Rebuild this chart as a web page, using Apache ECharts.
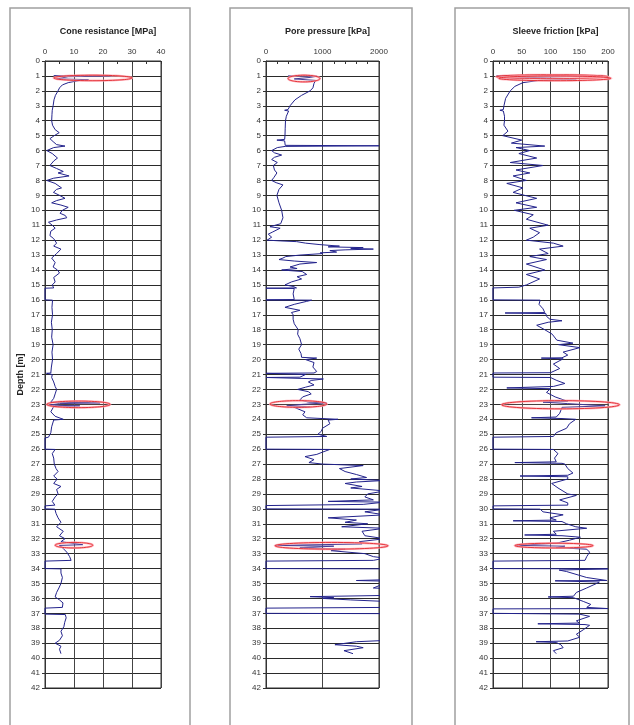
<!DOCTYPE html>
<html>
<head>
<meta charset="utf-8">
<script src="https://cdn.jsdelivr.net/npm/echarts@6/dist/echarts.min.js"></script>
<style>html,body{margin:0;padding:0;background:#fff}#c{width:634px;height:725px}</style>
</head>
<body>
<div id="c"></div>
<script>
// ---------- DATA ----------
const depthTicks = [0, 42];
const panelTitles = ['Cone resistance [MPa]', 'Pore pressure [kPa]', 'Sleeve friction [kPa]'];
const depthLabel = 'Depth [m]';

// Cone resistance [MPa]
const coneDepth = [0.98,1.0,1.05,1.2,1.25,1.3,1.45,1.6,1.8,2.0,2.3,2.6,3.0,3.3,3.6,4.0,4.3,4.6,4.8,5.0,5.2,5.4,5.6,5.7,5.8,6.0,6.2,6.5,6.7,7.0,7.2,7.4,7.5,7.7,7.85,8.0,8.2,8.5,8.6,8.8,9.0,9.2,9.35,9.5,9.65,9.8,10.0,10.2,10.35,10.5,10.65,10.8,11.0,11.2,11.4,11.7,11.9,12.2,12.4,12.6,12.7,12.9,13.2,13.5,13.8,14.0,14.2,14.5,14.8,15.0,15.2,15.22,16.0,16.02,16.5,17.0,17.5,18.0,18.5,19.0,19.5,20.0,20.5,20.9,20.92,21.0,21.2,21.5,21.8,22.0,22.3,22.6,22.85,22.9,22.95,23.05,23.1,23.15,23.5,23.8,24.0,24.05,24.5,24.9,25.2,25.25,26.0,26.02,26.3,26.6,27.0,27.3,27.5,27.8,28.0,28.3,28.5,28.7,29.0,29.2,29.5,29.75,29.8,30.0,30.02,30.3,30.6,30.9,31.2,31.5,31.8,32.0,32.2,32.4,32.45,32.6,32.9,33.2,33.45,33.5,34.0,34.02,34.3,34.6,35.0,35.3,35.6,35.9,36.1,36.3,36.6,36.65,37.05,37.08,37.3,37.6,37.9,38.2,38.5,38.8,39.0,39.2,39.4,39.7];
const coneValue = [3,23,8,4,15,12,8,6,5,4.5,3.6,3.1,2.8,2.5,2.4,2.3,2.6,3.5,4.9,3.2,1.7,2.8,4.0,6.9,3.0,0.6,2.5,4.3,3.0,1.7,4.0,6.3,4.5,8.3,3.0,0.6,3.5,5.7,4.0,2.9,5.0,6.9,4.0,2.3,5.5,8.0,6.0,5.2,7.0,7.5,4.0,1.2,2.5,3.5,2.0,1.7,3.0,4.0,3.0,5.5,5.0,4.0,2.3,3.5,2.8,4.3,5.0,3.0,3.5,2.5,3.0,0,0,2.6,2.4,2.6,2.2,2.5,2.3,2.8,2.4,2.6,2.2,2.0,0.5,2.5,2.3,3.0,3.5,4.0,3.5,3.0,2.0,19,5,1.5,12,3,2.0,3.5,6.3,3.0,2.3,2.0,1.2,0,0,3.5,2.5,3.0,3.2,3.8,4.5,3.0,4.2,3.0,5.5,4.0,4.5,3.5,2.5,3.4,0,0,3.4,3.8,4.5,5.5,4.0,6.3,5.0,6.9,5.5,13,5.0,6.0,7.5,8.5,9.0,0,0,5.5,5.5,6.0,5.5,4.8,4.0,3.5,5.0,6.2,6.0,0,0,7.0,7.3,6.8,6.5,5.5,6.0,5.0,3.5,5.5,5.0,5.5];

// Pore pressure [kPa]
const poreDepth = [1.0,1.02,1.1,1.2,1.3,1.5,1.8,2.0,2.3,2.6,3.0,3.25,3.3,3.35,3.7,4.0,4.5,5.0,5.25,5.3,5.35,5.65,5.68,5.72,5.8,6.0,6.15,6.3,6.45,6.6,6.8,7.0,7.3,7.5,7.8,8.0,8.15,8.3,8.6,9.0,9.5,10.0,10.5,10.9,11.0,11.1,11.2,11.3,11.45,11.6,11.8,12.0,12.05,12.1,12.2,12.3,12.4,12.45,12.5,12.55,12.6,12.65,12.7,12.8,12.85,12.9,13.0,13.1,13.2,13.3,13.4,13.5,13.6,13.8,13.9,14.0,14.1,14.3,14.45,14.6,14.8,15.0,15.1,15.2,15.22,15.24,15.6,15.98,16.0,16.02,16.1,16.3,16.5,16.7,16.85,17.0,17.3,17.6,18.0,18.3,18.6,19.0,19.3,19.6,19.85,19.9,20.0,20.2,20.5,20.8,20.9,20.92,21.0,21.18,21.2,21.3,21.4,21.5,21.7,21.85,22.0,22.15,22.3,22.5,22.7,22.85,22.9,23.0,23.1,23.15,23.2,23.5,23.7,23.9,24.0,24.05,24.3,24.6,24.8,25.0,25.15,25.2,26.0,26.02,26.2,26.35,26.5,26.7,26.9,27.0,27.1,27.3,27.5,27.7,27.9,28.0,28.1,28.2,28.3,28.5,28.6,28.8,29.0,29.2,29.4,29.5,29.55,29.7,29.76,29.78,30.0,30.02,30.2,30.4,30.6,30.75,30.9,31.0,31.2,31.3,31.5,31.8,32.0,32.2,32.35,32.45,32.5,32.6,32.7,32.8,33.0,33.2,33.3,33.45,33.5,34.0,34.02,34.5,34.75,34.8,34.85,35.3,35.35,35.8,35.88,35.95,36.0,36.1,36.2,36.6,36.65,37.0,37.02,38.8,38.9,39.1,39.2,39.3,39.5,39.7];
const poreValue = [390,900,780,500,880,850,830,780,630,513,425,390,330,400,360,345,340,336,330,193,330,340,2000,340,200,100,150,277,150,100,200,130,150,193,140,100,180,300,230,193,230,277,300,260,277,70,250,230,120,40,100,20,250,543,700,955,1300,1100,1720,1500,1900,1400,1130,1250,960,1000,600,350,300,230,500,897,600,425,550,277,640,720,550,630,450,336,480,540,0,500,480,500,0,808,720,500,336,600,450,480,480,500,570,560,600,630,580,620,630,897,700,850,830,897,850,0,700,600,0,1015,800,750,850,700,560,750,800,650,600,750,1070,650,366,780,500,690,650,720,1275,1100,1130,1000,980,920,1075,0,0,1130,1000,900,690,850,760,1000,1720,1300,1400,1600,1780,1500,2100,1600,1400,1700,1500,2100,1800,1750,1900,1100,2100,1720,1700,0,0,2100,1750,2100,1100,1600,1400,1800,1340,2100,1700,1750,2100,1650,1700,160,1200,600,1400,1150,1750,1900,2100,1900,0,0,2300,2300,2100,1600,2200,1900,2200,2100,780,1200,1000,1500,2100,2200,0,0,2300,2200,1600,1220,1600,1720,1380,1540];

// Sleeve friction [kPa]
const sleeveDepth = [0.98,1.0,1.05,1.15,1.2,1.3,1.45,1.7,2.0,2.5,3.0,3.25,3.3,3.35,3.7,4.0,4.3,4.7,5.0,5.3,5.5,5.7,5.8,6.0,6.2,6.5,6.8,7.0,7.3,7.5,7.7,8.0,8.2,8.5,8.8,9.0,9.2,9.5,9.8,10.0,10.3,10.6,11.0,11.2,11.5,11.8,12.0,12.2,12.4,12.6,12.9,13.1,13.3,13.6,14.0,14.3,14.6,15.0,15.15,15.2,16.0,16.02,16.3,16.6,16.85,16.88,16.92,17.1,17.3,17.4,17.5,17.7,18.0,18.3,18.7,18.9,19.0,19.2,19.5,19.7,19.88,19.9,19.95,20.3,20.6,20.88,20.9,21.18,21.2,21.4,21.6,21.8,21.9,21.95,22.2,22.5,22.8,22.85,22.95,23.1,23.2,23.3,23.6,23.85,23.9,23.95,24.0,24.3,24.6,24.9,25.15,25.2,26.0,26.02,26.3,26.6,26.85,26.9,26.95,27.0,27.3,27.6,27.75,27.8,27.85,28.0,28.3,28.6,29.0,29.1,29.4,29.6,29.75,29.8,30.0,30.02,30.2,30.4,30.6,30.75,30.8,30.85,31.0,31.2,31.3,31.5,31.7,31.75,31.8,31.9,32.1,32.3,32.45,32.5,32.6,32.7,32.9,33.2,33.45,33.5,34.0,34.02,34.1,34.2,34.6,34.8,34.82,34.9,35.0,35.3,35.6,35.85,35.9,35.95,36.0,36.2,36.4,36.6,36.68,36.7,37.0,37.02,37.05,37.2,37.5,37.65,37.7,37.75,37.8,38.1,38.4,38.6,38.85,38.9,38.95,39.1,39.3,39.5,39.7];
const sleeveValue = [6,191,120,15,145,80,52,38,30,22,19,18,12,18,20,20,19,26,17,50,32,90,40,64,45,76,30,87,40,64,35,58,24,52,35,55,76,40,76,37,70,58,96,64,81,70,58,105,122,81,96,64,93,58,90,58,81,58,45,0,0,82,80,87,90,21,92,93,99,120,96,76,90,103,111,139,114,151,122,130,120,84,122,105,116,100,0,0,100,111,125,105,24,100,93,108,130,87,130,195,120,122,116,110,67,120,144,133,128,110,105,0,0,105,113,107,110,38,120,125,130,139,130,47,130,130,102,113,130,145,116,130,130,0,0,82,87,122,99,110,35,120,128,144,163,105,110,55,120,152,133,110,41,125,110,163,168,163,160,0,0,200,115,128,163,198,108,185,180,163,145,140,96,140,139,157,170,163,200,0,0,62,150,168,145,150,78,160,168,157,145,151,130,75,110,118,122,105,110];

// Highlight ellipses: [xMin, xMax, depthTop, depthBottom]
const coneEllipses = [[3, 30, 0.95, 1.32], [0.6, 22.5, 22.78, 23.22], [3.5, 16.5, 32.25, 32.62]];
const poreEllipses = [[390, 955, 0.95, 1.4], [70, 1075, 22.75, 23.2], [160, 2160, 32.25, 32.7]];
const sleeveEllipses = [[6, 200, 0.92, 1.18], [10, 205, 1.0, 1.32], [15, 220, 22.75, 23.3], [38, 174, 32.3, 32.62]];

// ---------- CHART ----------
const FONT = 'Liberation Sans, Arial, sans-serif';
const LINE = '#23238c';
const zip = (d, v) => d.map((y, i) => [v[i], y]);

const grids = [
  { left: 45, width: 116 },
  { left: 266, width: 113 },
  { left: 493, width: 115 }
];
const xCfg = [
  { max: 40, interval: 10, minor: 2 },
  { max: 2000, interval: 1000, minor: 5 },
  { max: 200, interval: 50, minor: 5 }
];

function ellipseSeries(idx, data) {
  return {
    type: 'custom', xAxisIndex: idx, yAxisIndex: idx, clip: false, z: 5,
    data: data,
    renderItem: function (params, api) {
      const a = api.coord([api.value(0), api.value(2)]);
      const b = api.coord([api.value(1), api.value(3)]);
      const cx = (a[0] + b[0]) / 2, cy = (a[1] + b[1]) / 2;
      const rx = Math.abs(b[0] - a[0]) / 2, ry = Math.abs(b[1] - a[1]) / 2;
      const pts = [];
      for (let k = 0; k < 60; k++) {
        const t = k / 60 * Math.PI * 2;
        pts.push([cx + rx * Math.cos(t), cy + ry * Math.sin(t)]);
      }
      return {
        type: 'group',
        children: [
          { type: 'polygon', shape: { points: pts }, style: { fill: 'rgba(255,200,200,0.15)', stroke: 'rgba(255,170,180,0.8)', lineWidth: 2.2 } },
          { type: 'polygon', shape: { points: pts }, style: { fill: 'none', stroke: '#e2262b', lineWidth: 0.9 } }
        ]
      };
    }
  };
}

const option = {
  animation: false,
  backgroundColor: '#ffffff',
  textStyle: { fontFamily: FONT },
  graphic: [
    { type: 'rect', shape: { x: 10, y: 8, width: 180, height: 730 }, style: { fill: 'none', stroke: '#a0a0a0', lineWidth: 1.5 }, z: -10 },
    { type: 'rect', shape: { x: 230, y: 8, width: 182, height: 730 }, style: { fill: 'none', stroke: '#a0a0a0', lineWidth: 1.5 }, z: -10 },
    { type: 'rect', shape: { x: 455, y: 8, width: 174, height: 730 }, style: { fill: 'none', stroke: '#a0a0a0', lineWidth: 1.5 }, z: -10 }
  ],
  title: panelTitles.map((t, i) => ({
    text: t,
    left: grids[i].left + grids[i].width / 2,
    top: 22,
    textAlign: 'center',
    textStyle: { fontFamily: FONT, fontSize: 9, fontWeight: 'bold', color: '#222' }
  })),
  grid: grids.map(g => ({ left: g.left, width: g.width, top: 61, bottom: 37, show: true, borderColor: '#333', borderWidth: 1 })),
  xAxis: xCfg.map((c, i) => ({
    type: 'value', gridIndex: i, position: 'top', min: 0, max: c.max, interval: c.interval,
    axisLine: { show: true, lineStyle: { color: '#333', width: 1 } },
    axisTick: { show: true, length: 3, inside: true, lineStyle: { color: '#333' } },
    minorTick: { show: true, splitNumber: c.minor, length: 3, lineStyle: { color: '#333' } },
    axisLabel: { fontFamily: FONT, fontSize: 8, color: '#333', margin: 5, formatter: v => String(v) },
    splitLine: { show: true, lineStyle: { color: '#444', width: 1 } }
  })),
  yAxis: grids.map((g, i) => ({
    type: 'value', gridIndex: i, inverse: true, min: depthTicks[0], max: depthTicks[1], interval: 1,
    name: i === 0 ? depthLabel : '', nameLocation: 'middle', nameRotate: 90, nameGap: 20,
    nameTextStyle: { fontFamily: FONT, fontSize: 9, fontWeight: 'bold', color: '#222' },
    axisLine: { show: true, lineStyle: { color: '#333' } },
    axisTick: { show: true, length: 3, lineStyle: { color: '#333' } },
    axisLabel: { fontFamily: FONT, fontSize: 8, color: '#333', margin: 5 },
    splitLine: { show: true, lineStyle: { color: '#2a2a2a', width: 1.2 } }
  })),
  series: [
    { type: 'line', xAxisIndex: 0, yAxisIndex: 0, data: zip(coneDepth, coneValue), showSymbol: false, clip: true, lineStyle: { color: LINE, width: 1 }, z: 3 },
    { type: 'line', xAxisIndex: 1, yAxisIndex: 1, data: zip(poreDepth, poreValue), showSymbol: false, clip: true, lineStyle: { color: LINE, width: 1 }, z: 3 },
    { type: 'line', xAxisIndex: 2, yAxisIndex: 2, data: zip(sleeveDepth, sleeveValue), showSymbol: false, clip: true, lineStyle: { color: LINE, width: 1 }, z: 3 },
    ellipseSeries(0, coneEllipses),
    ellipseSeries(1, poreEllipses),
    ellipseSeries(2, sleeveEllipses)
  ]
};

const chart = echarts.init(document.getElementById('c'), null, { renderer: 'canvas' });
chart.setOption(option);
</script>
</body>
</html>
